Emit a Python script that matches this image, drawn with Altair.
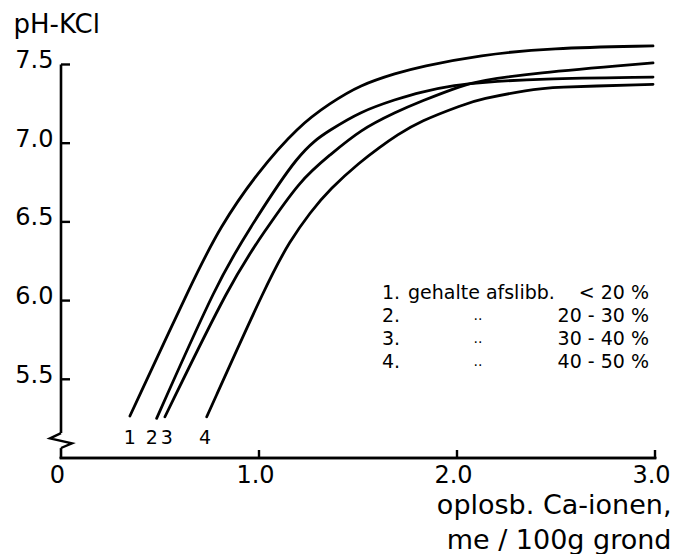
import altair as alt
import pandas as pd

# pH-KCl against soluble Ca ions (me/100g soil) for four silt-content classes
c1_x = [0.348, 0.667, 0.803, 0.990, 1.20, 1.359, 1.510, 1.697, 1.813, 2.116, 2.470, 2.99]
c1_y = [5.267, 6.131, 6.468, 6.811, 7.11, 7.254, 7.370, 7.446, 7.486, 7.560, 7.605, 7.618]
c2_x = [0.483, 0.794, 0.938, 1.207, 1.359, 1.510, 1.695, 1.813, 1.998, 2.116, 2.40, 2.99]
c2_y = [5.252, 6.131, 6.428, 6.957, 7.084, 7.200, 7.280, 7.325, 7.370, 7.385, 7.410, 7.420]
c3_x = [0.525, 0.862, 1.022, 1.21, 1.359, 1.510, 1.695, 1.813, 2.032, 2.116, 2.369, 2.99]
c3_y = [5.262, 6.131, 6.428, 6.77, 6.925, 7.084, 7.200, 7.264, 7.370, 7.395, 7.444, 7.510]
c4_x = [0.736, 1.047, 1.157, 1.258, 1.359, 1.510, 1.611, 1.695, 1.813, 2.032, 2.116, 2.37, 2.47, 2.99]
c4_y = [5.262, 6.131, 6.38, 6.56, 6.71, 6.88, 6.975, 7.05, 7.14, 7.245, 7.28, 7.34, 7.355, 7.374]

curve_ids = ["1", "2", "3", "4"]
curve_label_x = [0.348, 0.458, 0.534, 0.727]
curve_label_y = 5.127

legend_num = ["1.", "2.", "3.", "4."]
legend_desc = ["gehalte afslibb.", "„", "„", "„"]
legend_range = ["< 20 %", "20 - 30 %", "30 - 40 %", "40 - 50 %"]

y_ticks = [5.5, 6.0, 6.5, 7.0, 7.5]
x_ticks = [0.0, 1.0, 2.0, 3.0]
y_axis_segments = [(5.0, 5.063), (5.159, 7.5)]
y_break = 5.111

W, H = 594, 425
FONT = "DejaVu Sans"
INK = "black"

rows = []
for cid, xs, ys in zip(curve_ids, [c1_x, c2_x, c3_x, c4_x], [c1_y, c2_y, c3_y, c4_y]):
    for xv, yv in zip(xs, ys):
        rows.append({"curve": cid, "x": xv, "y": yv})
curves = pd.DataFrame(rows)

xs = alt.Scale(domain=[0, 3.0], nice=False, zero=False)
ys = alt.Scale(domain=[5.0, 7.7], nice=False, zero=False)

x_axis = alt.Axis(
    values=x_ticks, domain=False, ticks=False, grid=False,
    labelExpr="datum.value == 0 ? '0' : format(datum.value, '.1f')",
    labelFont=FONT, labelFontSize=24, labelColor=INK, labelPadding=5,
    labelOffset=-4, labelFlush=False, labelOverlap=False,
    title=["oplosb. Ca-ionen,", "me / 100g grond"],
    titleFont=FONT, titleFontSize=27, titleFontWeight="normal", titleColor=INK,
    titleAnchor="end", titleAlign="right", titleX=610, titleY=55,
    titleBaseline="alphabetic", titleLineHeight=35,
)
y_axis = alt.Axis(
    values=y_ticks, domain=False, ticks=False, grid=False, format=".1f",
    labelFont=FONT, labelFontSize=24, labelColor=INK, labelPadding=8,
    labelBaseline="middle", labelOffset=-4, labelFlush=False, labelOverlap=False,
    title="pH-KCl", titleFont=FONT, titleFontSize=26, titleFontWeight="normal",
    titleColor=INK, titleAngle=0, titleAlign="left", titleBaseline="alphabetic",
    titleX=-48, titleY=-1,
)


def X(field):
    return alt.X(field, type="quantitative", scale=xs, axis=x_axis)


def Y(field):
    return alt.Y(field, type="quantitative", scale=ys, axis=y_axis)


lines = alt.Chart(curves).mark_line(
    color=INK, strokeWidth=2.8, interpolate="basis", strokeCap="round"
).encode(x=X("x"), y=Y("y"), detail="curve:N", order="x:Q")

# axis lines drawn by hand so the y axis can be broken near the bottom
y_seg = pd.DataFrame({"y0": [s[0] for s in y_axis_segments], "y1": [s[1] for s in y_axis_segments]})
y_line = alt.Chart(y_seg).mark_rule(color=INK, strokeWidth=2.6).encode(
    x=alt.value(0), y=Y("y0"), y2="y1"
)
x_line = alt.Chart(y_seg).mark_rule(color=INK, strokeWidth=2.6, strokeCap="square").encode(
    x=alt.value(0), x2=alt.value(W), y=alt.value(H)
)

y_tick_df = pd.DataFrame({"v": y_ticks})
y_tick_marks = alt.Chart(y_tick_df).mark_rule(color=INK, strokeWidth=2.4).encode(
    y=Y("v"), x=alt.value(0), x2=alt.value(9)
)
x_tick_df = pd.DataFrame({"v": x_ticks[1:]})
x_tick_marks = alt.Chart(x_tick_df).mark_rule(color=INK, strokeWidth=2.4).encode(
    x=X("v"), y=alt.value(H), y2=alt.value(H - 8)
)

break_df = pd.DataFrame({"x": [0.0], "y": [y_break]})
break_mark = alt.Chart(break_df).mark_point(
    shape="M 0 -0.68 L -1 -0.2 L 1 0.25 L 0 0.68",
    filled=False, color=INK, strokeWidth=2.4, size=484, opacity=1,
).encode(x=X("x"), y=Y("y"))

lab_df = pd.DataFrame({"t": curve_ids, "x": curve_label_x, "y": [curve_label_y] * 4})
curve_labels = alt.Chart(lab_df).mark_text(
    font=FONT, fontSize=19, color=INK, baseline="middle", align="center"
).encode(x=X("x"), y=Y("y"), text="t:N")

leg_df = pd.DataFrame({
    "num": legend_num, "desc": legend_desc, "rng": legend_range,
    "row": list(range(4)),
})
leg_base = alt.Chart(leg_df).transform_calculate(py="260 + datum.row * 23")
leg_num = leg_base.mark_text(font=FONT, fontSize=19, color=INK, align="left", baseline="middle").encode(
    x=alt.value(321), y=alt.Y("py:Q", scale=None), text="num:N"
)
leg_desc = leg_base.mark_text(font=FONT, fontSize=19, color=INK, align="left", baseline="middle").encode(
    x=alt.value(347), y=alt.Y("py:Q", scale=None), text="desc:N"
).transform_filter("datum.row == 0")
leg_ditto = leg_base.mark_text(font=FONT, fontSize=14, color=INK, align="center", baseline="middle").encode(
    x=alt.value(417), y=alt.Y("py:Q", scale=None), text=alt.value("..")
).transform_filter("datum.row > 0")
leg_rng = leg_base.mark_text(font=FONT, fontSize=19, color=INK, align="right", baseline="middle").encode(
    x=alt.value(588), y=alt.Y("py:Q", scale=None), text="rng:N"
)

chart = alt.layer(
    lines, y_line, x_line, y_tick_marks, x_tick_marks, break_mark,
    curve_labels, leg_num, leg_desc, leg_ditto, leg_rng,
).properties(
    width=W, height=H,
    autosize=alt.AutoSizeParams(type="none"),
    padding={"left": 61, "top": 33, "right": 18, "bottom": 96},
    background="white",
).configure_view(stroke=None)

chart.save("out.html", embed_options={"renderer": "svg", "actions": False})
